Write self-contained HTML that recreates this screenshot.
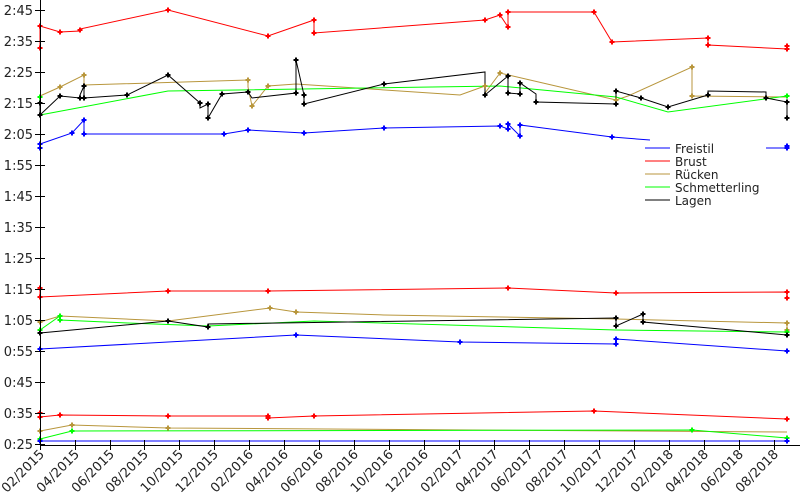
<!DOCTYPE html>
<html><head><meta charset="utf-8"><style>
body{margin:0;background:#fff}
svg{display:block;font-family:"DejaVu Sans","Liberation Sans",sans-serif}
</style></head><body>
<svg width="800" height="500" viewBox="0 0 800 500" xmlns="http://www.w3.org/2000/svg">
<defs>
<g id="m"><path d="M-2.5,0H2.5M0,-2.5V2.5" stroke-width="2"/></g>
</defs>
<g fill="none" stroke-width="1">
<!-- Brust top -->
<polyline stroke="#f00" points="40,48 40,26 60,32 80,31 80,29 168,10 268,36 314,20 314,33 485,20 500,15 508,27 508,12 594,12 612,42 708,38 708,45 787,49 787,46"/>
<!-- Rücken top -->
<polyline stroke="#b8963c" points="40,96 60,87 84,75 84,85 248,80 248,87 252,106 268,86 296,84 460,95 485,86 485,93 500,73 530,80 616,100 628,96 692,67 692,96 787,97"/>
<!-- Schmetterling top -->
<polyline stroke="#0f0" points="40,97 40,115 168,91 500,86 616,97 668,112 787,96"/>
<!-- Lagen top -->
<polyline stroke="#000" points="40,103 40,115 60,96 80,98 80,95 84,86 84,98 127,95 168,75 200,103 200,108 208,104 208,118 222,94 248,92 252,98 296,93 296,60 304,95 304,104 384,84 485,72 485,95 508,76 508,93 520,94 520,83 536,94 536,102 616,104 616,91 641,98 668,107 708,95 708,91 766,92 766,98 787,102 787,118"/>
<!-- Freistil top -->
<polyline stroke="#00f" points="40,148 40,144 72,133 84,120 84,134 224,134 248,130 304,133 384,128 500,126 508,129 508,124 520,136 520,125 612,137 650,140"/>
<polyline stroke="#00f" points="766,148 787,148 787,146"/>
<!-- lower group -->
<polyline stroke="#f00" points="40,288 40,297 168,291 268,291 508,288 616,293 787,292 787,298"/>
<polyline stroke="#b8963c" points="40,322 60,316 168,321 270,308 296,312 384,315 616,319 787,323 787,330"/>
<polyline stroke="#0f0" points="40,330 60,316 60,320 128,323 208,326 314,321 616,330 787,332"/>
<polyline stroke="#000" points="40,333 168,321 208,327 208,324 616,318 616,326 643,314 643,322 787,335"/>
<polyline stroke="#00f" points="40,349 296,335 460,342 616,344 616,339 787,351"/>
<!-- bottom group -->
<polyline stroke="#f00" points="40,413 40,417 60,415 168,416 268,416 268,418 314,416 594,411 787,419"/>
<polyline stroke="#b8963c" points="40,431 72,425 168,428 787,432"/>
<polyline stroke="#0f0" points="40,439 72,431 692,430 787,438"/>
<polyline stroke="#00f" points="40,441 787,441"/>
</g>
<!-- markers -->
<g stroke="#f00">
<use href="#m" x="40" y="26"/><use href="#m" x="40" y="48"/><use href="#m" x="60" y="32"/><use href="#m" x="80" y="30"/><use href="#m" x="168" y="10"/><use href="#m" x="268" y="36"/><use href="#m" x="314" y="20"/><use href="#m" x="314" y="33"/><use href="#m" x="485" y="20"/><use href="#m" x="500" y="15"/><use href="#m" x="508" y="27"/><use href="#m" x="508" y="12"/><use href="#m" x="594" y="12"/><use href="#m" x="612" y="42"/><use href="#m" x="708" y="38"/><use href="#m" x="708" y="45"/><use href="#m" x="787" y="49"/><use href="#m" x="787" y="46"/>
<use href="#m" x="40" y="288"/><use href="#m" x="40" y="297"/><use href="#m" x="168" y="291"/><use href="#m" x="268" y="291"/><use href="#m" x="508" y="288"/><use href="#m" x="616" y="293"/><use href="#m" x="787" y="292"/><use href="#m" x="787" y="298"/>
<use href="#m" x="40" y="413"/><use href="#m" x="40" y="417"/><use href="#m" x="60" y="415"/><use href="#m" x="168" y="416"/><use href="#m" x="268" y="416"/><use href="#m" x="268" y="418"/><use href="#m" x="314" y="416"/><use href="#m" x="594" y="411"/><use href="#m" x="787" y="419"/>
</g>
<g stroke="#b8963c">
<use href="#m" x="60" y="87"/><use href="#m" x="84" y="75"/><use href="#m" x="248" y="80"/><use href="#m" x="252" y="106"/><use href="#m" x="268" y="86"/><use href="#m" x="485" y="86"/><use href="#m" x="500" y="73"/><use href="#m" x="616" y="100"/><use href="#m" x="692" y="67"/><use href="#m" x="692" y="96"/>
<use href="#m" x="40" y="322"/><use href="#m" x="60" y="316"/><use href="#m" x="270" y="308"/><use href="#m" x="296" y="312"/><use href="#m" x="787" y="323"/><use href="#m" x="787" y="330"/>
<use href="#m" x="40" y="431"/><use href="#m" x="72" y="425"/><use href="#m" x="168" y="428"/>
</g>
<g stroke="#0f0">
<use href="#m" x="40" y="97"/><use href="#m" x="40" y="115"/><use href="#m" x="787" y="96"/>
<use href="#m" x="40" y="330"/><use href="#m" x="60" y="316"/><use href="#m" x="60" y="320"/><use href="#m" x="787" y="332"/>
<use href="#m" x="40" y="439"/><use href="#m" x="72" y="431"/><use href="#m" x="692" y="430"/><use href="#m" x="787" y="438"/>
</g>
<g stroke="#000">
<use href="#m" x="40" y="103"/><use href="#m" x="40" y="115"/><use href="#m" x="60" y="96"/><use href="#m" x="80" y="98"/><use href="#m" x="84" y="86"/><use href="#m" x="84" y="98"/><use href="#m" x="127" y="95"/><use href="#m" x="168" y="75"/><use href="#m" x="200" y="103"/><use href="#m" x="208" y="104"/><use href="#m" x="208" y="118"/><use href="#m" x="222" y="94"/><use href="#m" x="248" y="92"/><use href="#m" x="296" y="93"/><use href="#m" x="296" y="60"/><use href="#m" x="304" y="95"/><use href="#m" x="304" y="104"/><use href="#m" x="384" y="84"/><use href="#m" x="485" y="95"/><use href="#m" x="508" y="76"/><use href="#m" x="508" y="93"/><use href="#m" x="520" y="94"/><use href="#m" x="520" y="83"/><use href="#m" x="536" y="102"/><use href="#m" x="616" y="104"/><use href="#m" x="616" y="91"/><use href="#m" x="641" y="98"/><use href="#m" x="668" y="107"/><use href="#m" x="708" y="95"/><use href="#m" x="766" y="98"/><use href="#m" x="787" y="102"/><use href="#m" x="787" y="118"/>
<use href="#m" x="40" y="333"/><use href="#m" x="168" y="321"/><use href="#m" x="208" y="327"/><use href="#m" x="616" y="318"/><use href="#m" x="616" y="326"/><use href="#m" x="643" y="314"/><use href="#m" x="643" y="322"/><use href="#m" x="787" y="335"/>
</g>
<g stroke="#00f">
<use href="#m" x="40" y="148"/><use href="#m" x="40" y="144"/><use href="#m" x="72" y="133"/><use href="#m" x="84" y="120"/><use href="#m" x="84" y="134"/><use href="#m" x="224" y="134"/><use href="#m" x="248" y="130"/><use href="#m" x="304" y="133"/><use href="#m" x="384" y="128"/><use href="#m" x="500" y="126"/><use href="#m" x="508" y="129"/><use href="#m" x="508" y="124"/><use href="#m" x="520" y="136"/><use href="#m" x="520" y="125"/><use href="#m" x="612" y="137"/><use href="#m" x="787" y="148"/><use href="#m" x="787" y="146"/>
<use href="#m" x="40" y="349"/><use href="#m" x="296" y="335"/><use href="#m" x="460" y="342"/><use href="#m" x="616" y="344"/><use href="#m" x="616" y="339"/><use href="#m" x="787" y="351"/>
<use href="#m" x="40" y="441"/><use href="#m" x="787" y="441"/>
</g>
<!-- legend -->
<rect x="645" y="141" width="120" height="68" fill="#fff"/>
<g stroke-width="1">
<line x1="645" y1="148" x2="670" y2="148" stroke="#00f"/>
<line x1="645" y1="161" x2="670" y2="161" stroke="#f00"/>
<line x1="645" y1="174" x2="670" y2="174" stroke="#b8963c"/>
<line x1="645" y1="187" x2="670" y2="187" stroke="#0f0"/>
<line x1="645" y1="200" x2="670" y2="200" stroke="#000"/>
</g>
<g font-size="12" fill="#222">
<text x="675" y="153">Freistil</text><text x="675" y="166">Brust</text><text x="675" y="179">Rücken</text><text x="675" y="192">Schmetterling</text><text x="675" y="205">Lagen</text>
</g>
<!-- axes -->
<g stroke="#000" stroke-width="1">
<line x1="40.5" y1="0" x2="40.5" y2="445"/>
<line x1="40" y1="445.5" x2="800" y2="445.5"/>
<path d="M35,10.5H45M35,41.5H45M35,72.5H45M35,103.5H45M35,134.5H45M35,165.5H45M35,196.5H45M35,227.5H45M35,258.5H45M35,289.5H45M35,320.5H45M35,351.5H45M35,382.5H45M35,413.5H45M35,444.5H45"/>
<path d="M40.5,440V450M75.5,440V450M110.5,440V450M144.5,440V450M179.5,440V450M214.5,440V450M249.5,440V450M284.5,440V450M319.5,440V450M354.5,440V450M389.5,440V450M424.5,440V450M459.5,440V450M494.5,440V450M529.5,440V450M564.5,440V450M599.5,440V450M634.5,440V450M669.5,440V450M704.5,440V450M739.5,440V450M774.5,440V450"/>
</g>
<g font-size="13" fill="#222" text-anchor="end">
<text x="33" y="15">2:45</text><text x="33" y="46">2:35</text><text x="33" y="77">2:25</text><text x="33" y="108">2:15</text><text x="33" y="139">2:05</text><text x="33" y="170">1:55</text><text x="33" y="201">1:45</text><text x="33" y="232">1:35</text><text x="33" y="263">1:25</text><text x="33" y="294">1:15</text><text x="33" y="325">1:05</text><text x="33" y="356">0:55</text><text x="33" y="387">0:45</text><text x="33" y="418">0:35</text><text x="33" y="449">0:25</text>
</g>
<g font-size="13" fill="#222" text-anchor="end">
<text transform="translate(45,455) rotate(-45)">02/2015</text>
<text transform="translate(80,455) rotate(-45)">04/2015</text>
<text transform="translate(115,455) rotate(-45)">06/2015</text>
<text transform="translate(149,455) rotate(-45)">08/2015</text>
<text transform="translate(184,455) rotate(-45)">10/2015</text>
<text transform="translate(219,455) rotate(-45)">12/2015</text>
<text transform="translate(254,455) rotate(-45)">02/2016</text>
<text transform="translate(289,455) rotate(-45)">04/2016</text>
<text transform="translate(324,455) rotate(-45)">06/2016</text>
<text transform="translate(359,455) rotate(-45)">08/2016</text>
<text transform="translate(394,455) rotate(-45)">10/2016</text>
<text transform="translate(429,455) rotate(-45)">12/2016</text>
<text transform="translate(464,455) rotate(-45)">02/2017</text>
<text transform="translate(499,455) rotate(-45)">04/2017</text>
<text transform="translate(534,455) rotate(-45)">06/2017</text>
<text transform="translate(569,455) rotate(-45)">08/2017</text>
<text transform="translate(604,455) rotate(-45)">10/2017</text>
<text transform="translate(639,455) rotate(-45)">12/2017</text>
<text transform="translate(674,455) rotate(-45)">02/2018</text>
<text transform="translate(709,455) rotate(-45)">04/2018</text>
<text transform="translate(744,455) rotate(-45)">06/2018</text>
<text transform="translate(779,455) rotate(-45)">08/2018</text>
</g>
</svg>
</body></html>
